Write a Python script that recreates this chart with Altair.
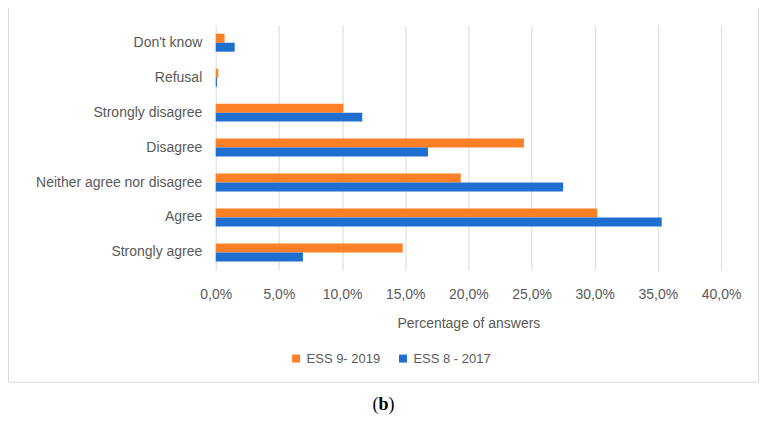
import altair as alt
import pandas as pd

categories = ["Don't know", "Refusal", "Strongly disagree", "Disagree",
              "Neither agree nor disagree", "Agree", "Strongly agree"]
series = ["ESS 9- 2019", "ESS 8 - 2017"]
ess9_2019 = [0.7, 0.2, 10.1, 24.4, 19.4, 30.2, 14.8]
ess8_2017 = [1.5, 0.1, 11.6, 16.8, 27.5, 35.3, 6.9]
x_ticks = [0, 5, 10, 15, 20, 25, 30, 35, 40]
colors = ["#FF7F27", "#1E6FD0"]

rows = []
for c, a, b in zip(categories, ess9_2019, ess8_2017):
    rows.append({"answer": c, "series": series[0], "value": a})
    rows.append({"answer": c, "series": series[1], "value": b})
df = pd.DataFrame(rows)

FONT = "Liberation Sans"
GRAY = "#595959"

bars = alt.Chart(df).mark_bar().encode(
    y=alt.Y("answer:N", sort=categories,
            scale=alt.Scale(paddingInner=0.486, paddingOuter=0.243),
            axis=alt.Axis(title=None, ticks=False, domain=False, grid=False,
                          labelFont=FONT, labelFontSize=14, labelColor=GRAY,
                          labelPadding=14)),
    yOffset=alt.YOffset("series:N", sort=series,
                        scale=alt.Scale(paddingInner=0, paddingOuter=0)),
    x=alt.X("value:Q", scale=alt.Scale(domain=[0, 40], nice=False),
            axis=alt.Axis(values=x_ticks, title="Percentage of answers",
                          labelExpr="replace(format(datum.value, '.1f'), '.', ',') + '%'",
                          labelFlush=False, labelOverlap=False,
                          ticks=False, tickSize=0, domain=False, grid=True,
                          gridColor="#d9d9d9", gridWidth=1,
                          labelFont=FONT, labelFontSize=14, labelColor=GRAY,
                          labelPadding=18, titleFont=FONT, titleFontSize=14,
                          titleColor=GRAY, titleFontWeight="normal",
                          titlePadding=15)),
    color=alt.Color("series:N", sort=series,
                    scale=alt.Scale(domain=series, range=colors),
                    legend=alt.Legend(title=None, orient="none", direction="horizontal",
                                      legendX=74, legendY=327,
                                      symbolType="square", symbolSize=64,
                                      symbolStrokeWidth=0,
                                      labelFont=FONT, labelFontSize=13,
                                      labelColor=GRAY, columnPadding=16,
                                      labelOffset=4)),
)

deco = pd.DataFrame({"k": [0]})
border = alt.Chart(deco).mark_rect(filled=False, stroke="#d9d9d9", strokeWidth=1).encode(
    x=alt.value(-207.5), x2=alt.value(543.5), y=alt.value(-18.5), y2=alt.value(357.5)
)
lp = alt.Chart(deco).mark_text(text="(", font="Liberation Serif", fontSize=18,
                               color="#000000").encode(x=alt.value(160), y=alt.value(380))
lb = alt.Chart(deco).mark_text(text="b", font="Liberation Serif", fontSize=18,
                               fontWeight="bold", color="#000000").encode(x=alt.value(168), y=alt.value(380))
rp = alt.Chart(deco).mark_text(text=")", font="Liberation Serif", fontSize=18,
                               color="#000000").encode(x=alt.value(176), y=alt.value(380))

chart = alt.layer(border, bars, lp, lb, rp).properties(
    width=506, height=245,
    autosize=alt.AutoSizeParams(type="none"),
    padding={"left": 208, "top": 17, "right": 38, "bottom": 146},
    background="white",
).configure_view(stroke=None)

chart.save("out.html", embed_options={"renderer": "svg", "actions": False})
